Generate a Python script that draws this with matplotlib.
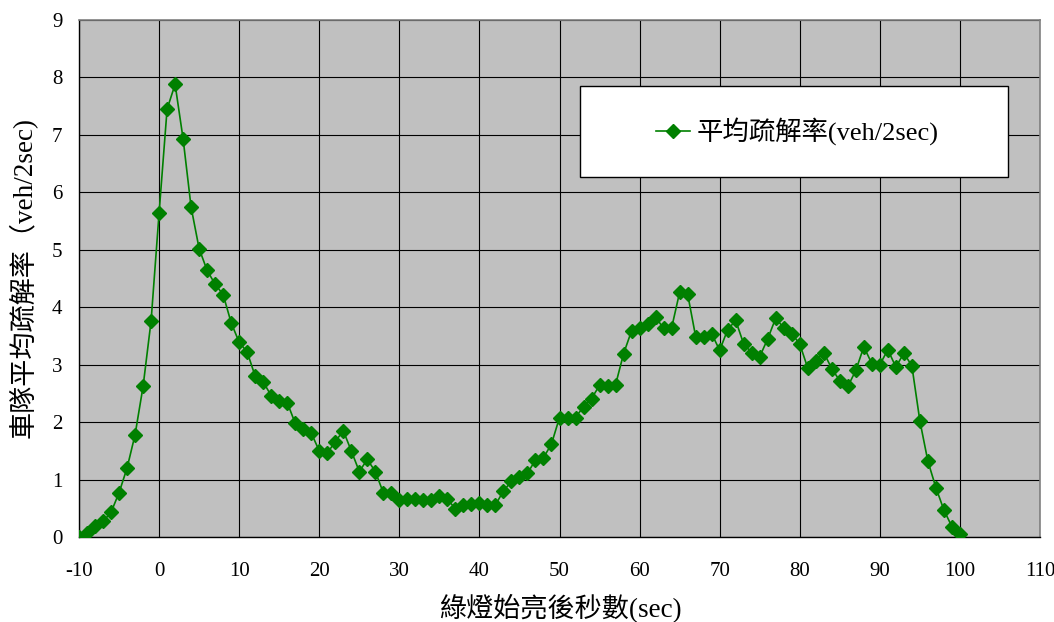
import matplotlib
matplotlib.use("Agg")
import matplotlib.pyplot as plt
from matplotlib.patches import Rectangle
from matplotlib.lines import Line2D

plt.rcParams['font.family'] = ['Liberation Serif', 'Noto Sans CJK TC', 'DejaVu Sans']
plt.rcParams['axes.unicode_minus'] = False

seconds = list(range(-10, 101))
rate = [
    0.00, 0.07, 0.20, 0.27, 0.43, 0.77, 1.20, 1.78, 2.62, 3.76,   # -10..-1
    5.64, 7.45, 7.88, 6.93, 5.74, 5.02, 4.64, 4.40, 4.22, 3.73,   # 0..9
    3.39, 3.22, 2.80, 2.70, 2.46, 2.36, 2.34, 1.98, 1.88, 1.81,   # 10..19
    1.50, 1.46, 1.66, 1.85, 1.50, 1.14, 1.35, 1.14, 0.77, 0.77,   # 20..29
    0.64, 0.67, 0.66, 0.64, 0.64, 0.71, 0.66, 0.49, 0.56, 0.57,   # 30..39
    0.59, 0.55, 0.56, 0.80, 0.97, 1.04, 1.11, 1.34, 1.38, 1.62,   # 40..49
    2.08, 2.07, 2.08, 2.27, 2.41, 2.64, 2.62, 2.65, 3.19, 3.59,   # 50..59
    3.64, 3.71, 3.83, 3.63, 3.64, 4.26, 4.23, 3.49, 3.49, 3.54,   # 60..69
    3.25, 3.61, 3.77, 3.36, 3.21, 3.14, 3.45, 3.81, 3.64, 3.54,   # 70..79
    3.36, 2.94, 3.07, 3.21, 2.93, 2.72, 2.62, 2.90, 3.31, 3.02,   # 80..89
    3.00, 3.26, 2.96, 3.20, 2.98, 2.02, 1.32, 0.86, 0.47, 0.18,   # 90..99
    0.06,                                                          # 100
]

series_label = '平均疏解率(veh/2sec)'
x_label = '綠燈始亮後秒數(sec)'
y_label = '車隊平均疏解率（veh/2sec)'
x_ticks = list(range(-10, 111, 10))
y_ticks = list(range(0, 10))

W, H = 1054, 622
fig = plt.figure(figsize=(W / 100, H / 100), dpi=100)
fig.patch.set_facecolor('white')
L, R, T, B = 79, 1040, 20, 537
ax = fig.add_axes([L / W, (H - B) / H, (R - L) / W, (B - T) / H])
ax.set_facecolor('#C0C0C0')

green = '#008000'
ax.plot(seconds, rate, color=green, lw=1.2, marker='D', markersize=7.5,
        markerfacecolor=green, markeredgecolor=green, zorder=3)

ax.set_xlim(-10, 110)
ax.set_ylim(0, 9)
ax.set_xticks(x_ticks)
ax.set_yticks(y_ticks)
ax.grid(True, color='black', lw=0.8, zorder=1)
ax.set_axisbelow(True)
ax.tick_params(axis='both', length=0, labelsize=15, colors='black')
ax.tick_params(axis='x', pad=18)
ax.tick_params(axis='y', pad=12)

for s in ['left', 'bottom']:
    ax.spines[s].set_color('black')
    ax.spines[s].set_linewidth(1.0)
for s in ['top', 'right']:
    ax.spines[s].set_color('#808080')
    ax.spines[s].set_linewidth(1.2)

ax.set_xlabel(x_label, fontsize=19.5)
ax.xaxis.label.set_va('center')
ax.xaxis.set_label_coords((560 - L) / (R - L), (B - 608) / (B - T))
ax.set_ylabel(y_label, fontsize=19.5)
ax.yaxis.label.set_va('center')
ax.yaxis.label.set_rotation_mode('default')
ax.yaxis.set_label_coords((23 - L) / (R - L), (B - 278) / (B - T))

# legend box
bx0, bx1, by0, by1 = 580, 1008, 86, 177
rect = Rectangle(((bx0 - L) / (R - L), (B - by1) / (B - T)),
                 (bx1 - bx0) / (R - L), (by1 - by0) / (B - T),
                 transform=ax.transAxes, facecolor='white', edgecolor='black',
                 lw=1.0, zorder=4)
ax.add_patch(rect)
handle = Line2D([], [], color=green, lw=1.2, marker='D', markersize=7,
                markerfacecolor=green, markeredgecolor=green)
leg = ax.legend([handle], [series_label], loc='center',
                bbox_to_anchor=(((bx0 + bx1) / 2 + 3 - L) / (R - L),
                                (B - (by0 + by1) / 2) / (B - T)),
                frameon=False, fontsize=19, handlelength=1.3,
                handletextpad=0.25, borderpad=0)
leg.set_zorder(5)

fig.savefig('out.png', dpi=100, facecolor='white')
